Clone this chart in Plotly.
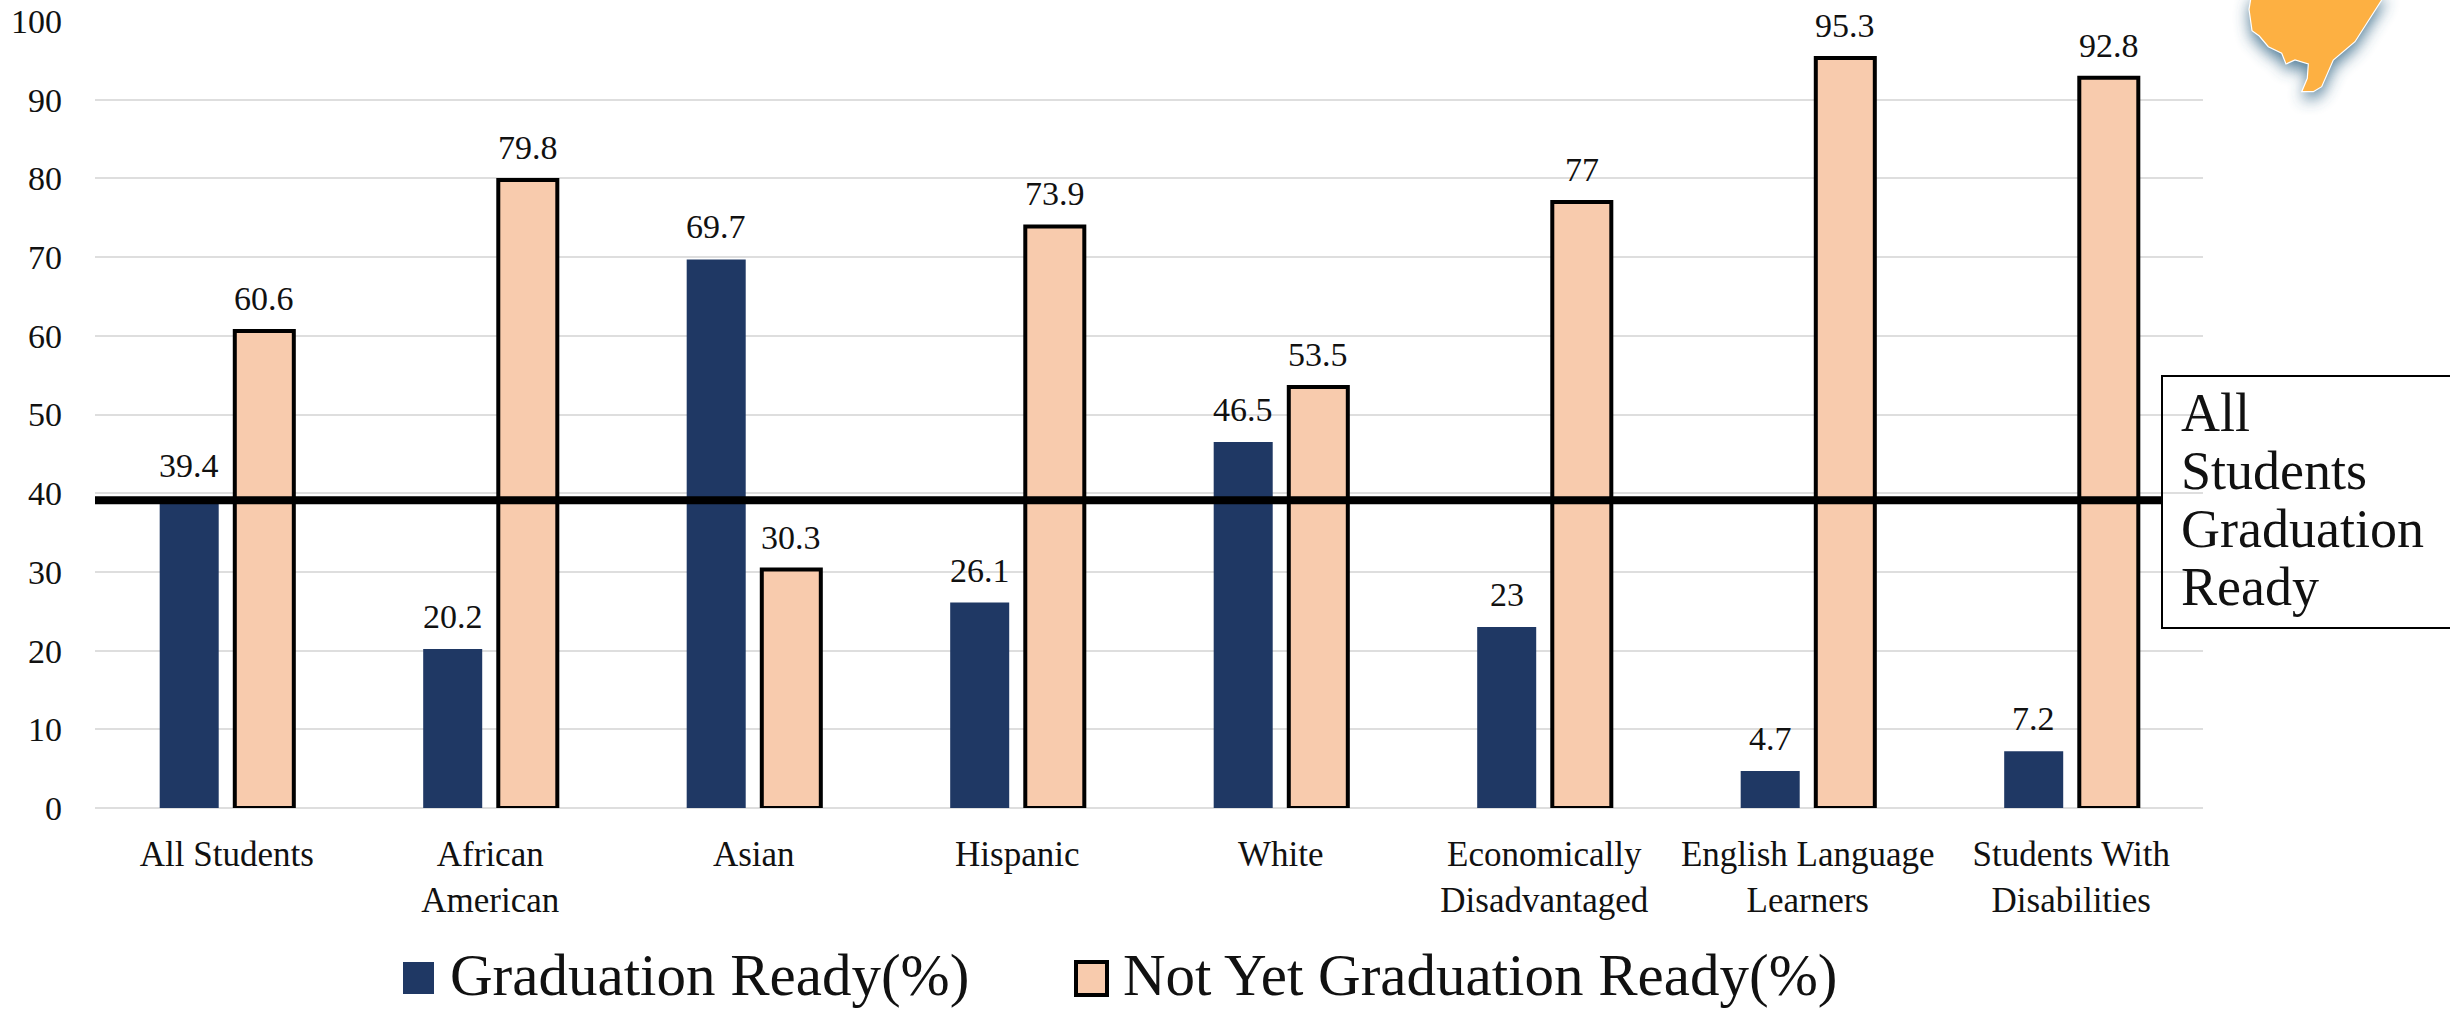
import base64
import plotly.graph_objects as go

categories = ["All Students", "African<br>American", "Asian", "Hispanic", "White",
              "Economically<br>Disadvantaged", "English Language<br>Learners", "Students With<br>Disabilities"]
graduation_ready = [39.4, 20.2, 69.7, 26.1, 46.5, 23, 4.7, 7.2]
not_yet_ready = [60.6, 79.8, 30.3, 73.9, 53.5, 77, 95.3, 92.8]
series_names = ["Graduation Ready(%)", "Not Yet Graduation Ready(%)"]
reference_level = 39.1
box_lines = ["All", "Students", "Graduation", "Ready"]

W, H = 2450, 1009
L, R, T, B = 95, 2203, 21, 808
NAVY, PEACH = "#1F3864", "#F8CBAD"
FONT = "Liberation Serif"
TEXT = "#111111"

def px(x):
    return (x - L) / (R - L)

def py(y):
    return (B - y) / (B - T)

fig = go.Figure()
fig.add_bar(x=categories, y=graduation_ready, name=series_names[0], marker=dict(color=NAVY, line=dict(width=0)))
fig.add_bar(x=categories, y=not_yet_ready, name=series_names[1], marker=dict(color=PEACH, line=dict(color="#000", width=4)))

shapes = [
    dict(type="line", xref="paper", yref="y", x0=0, x1=px(2163), y0=reference_level, y1=reference_level,
         line=dict(color="#000", width=8), layer="above"),
    dict(type="rect", xref="paper", yref="paper", x0=px(2162), x1=px(2460), y0=py(376), y1=py(628),
         line=dict(color="#000", width=2), fillcolor="rgba(0,0,0,0)", layer="above"),
    dict(type="rect", xref="paper", yref="paper", x0=px(403), x1=px(434), y0=py(962), y1=py(994),
         line=dict(width=0), fillcolor=NAVY),
    dict(type="rect", xref="paper", yref="paper", x0=px(1076), x1=px(1107), y0=py(962), y1=py(995),
         line=dict(color="#000", width=4), fillcolor=PEACH),
]

annotations = []
# value labels, placed from the data through the axes
for cat, v1, v2 in zip(categories, graduation_ready, not_yet_ready):
    for v, shift in ((v1, -37.6), (v2, 37.6)):
        annotations.append(dict(text=str(v), x=cat, y=v, xref="x", yref="y", xshift=shift, yshift=12,
                                yanchor="bottom", xanchor="center", showarrow=False,
                                font=dict(size=34, color=TEXT)))
for line, base in zip(box_lines, [430, 488, 546, 604]):
    annotations.append(dict(text=line, xref="paper", yref="paper", x=px(2180), y=py(base + 14), xanchor="left",
                            yanchor="bottom", showarrow=False, font=dict(size=54, color=TEXT), borderpad=0))
annotations.append(dict(text=series_names[0], xref="paper", yref="paper", x=px(448), y=py(975), xanchor="left",
                        yanchor="middle", showarrow=False, font=dict(size=59, color=TEXT)))
annotations.append(dict(text=series_names[1], xref="paper", yref="paper", x=px(1121), y=py(975), xanchor="left",
                        yanchor="middle", showarrow=False, font=dict(size=59, color=TEXT)))

# Orange map fragment with a soft drop shadow (top right corner)
outline = [(455, -20), (447, 28), (456, 92), (478, 108), (505, 140), (545, 160), (558, 192), (585, 180), (625, 192),
           (622, 235), (605, 275), (640, 275), (665, 260), (700, 180), (765, 125), (845, 0), (860, -20)]
d = "M" + " L".join(f"{x/3:.1f},{y/3+20:.1f}" for x, y in outline) + " Z"
svg = f'''<svg xmlns="http://www.w3.org/2000/svg" width="350" height="170" viewBox="0 0 350 170">
<defs><filter id="b" x="-30%" y="-30%" width="160%" height="160%"><feGaussianBlur stdDeviation="8"/></filter></defs>
<path d="{d}" transform="translate(0,7)" fill="#3a6c8a" opacity="0.9" filter="url(#b)"/>
<path d="{d}" fill="#FDB042" stroke="#fff" stroke-width="1.2"/></svg>'''
src = "data:image/svg+xml;base64," + base64.b64encode(svg.encode()).decode()

fig.update_layout(
    width=W, height=H, margin=dict(l=L, r=W - R, t=T, b=H - B, pad=0, autoexpand=False),
    paper_bgcolor="white", plot_bgcolor="white", showlegend=False,
    barmode="group", bargap=0.43, bargroupgap=0.214,
    font=dict(family=FONT, color=TEXT, size=34),
    shapes=shapes, annotations=annotations,
    images=[dict(source=src, xref="paper", yref="paper", x=px(2100), y=py(-20), sizex=350 / (R - L),
                 sizey=170 / (B - T), xanchor="left", yanchor="top", layer="above", sizing="stretch")],
    xaxis=dict(showgrid=False, showline=False, ticks="", tickfont=dict(size=35), ticklabelstandoff=22),
    yaxis=dict(range=[0, 100], dtick=10, gridcolor="#DEDEDE", gridwidth=2, zeroline=True, zerolinecolor="#DEDEDE",
               zerolinewidth=2, showline=False, ticks="", tickfont=dict(size=34), ticklabelstandoff=32),
)
fig.write_html("out.html", config=dict(displayModeBar=False),
               post_script="document.body.style.margin='0';document.documentElement.style.overflow='hidden';")
